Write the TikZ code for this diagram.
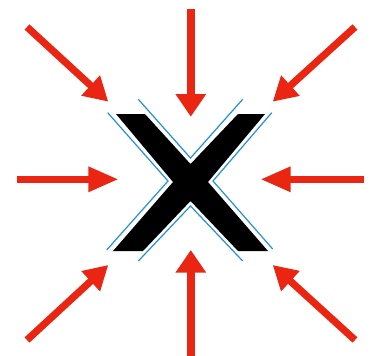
\documentclass[tikz,border=0pt]{standalone}
\usetikzlibrary{arrows.meta}
\definecolor{arrowred}{RGB}{234,38,18}
\definecolor{edgeblue}{RGB}{35,145,215}
\begin{document}
\begin{tikzpicture}[x=1pt,y=-1pt,
  vertarrow/.style={draw=arrowred,line width=8.3pt,-{Triangle[length=22.5pt,width=29pt]},fill=arrowred},
  horzarrow/.style={draw=arrowred,line width=6.4pt,-{Triangle[length=30pt,width=24pt]},fill=arrowred},
  diagarrow/.style={draw=arrowred,line width=7.2pt,-{Triangle[length=24pt,width=26pt]},fill=arrowred},
  blueedge/.style={draw=edgeblue,line width=1.2pt},
  crossmark/.style={fill=black}]
\useasboundingbox (0,0) rectangle (375,356);
% black X
\fill[crossmark] (116,114) -- (145,114) -- (190.5,164) -- (238,114) -- (265,114)
  -- (208,182) -- (268,251) -- (238,251) -- (190.5,201) -- (143,251) -- (113,251)
  -- (173,182) -- cycle;
% blue edges
\draw[blueedge] (107.7,112.7) -- (168,181) -- (106.7,250);
\draw[blueedge] (271.7,112.7) -- (213,181) -- (272.7,249);
\draw[blueedge] (138.3,99.3) -- (190.5,158) -- (242.7,99.3);
\draw[blueedge] (138.3,261) -- (190.5,206) -- (242.7,261);
% arrow ends
\coordinate (ts) at (190.8,9.3);   \coordinate (tt) at (190.8,116.7);
\coordinate (bs) at (190.8,356);   \coordinate (bt) at (190.8,250);
\coordinate (ls) at (16.7,179.3);  \coordinate (lt) at (118.3,179.3);
\coordinate (rs) at (364,179.3);   \coordinate (rt) at (260.7,179.3);
\coordinate (tls) at (27,27);      \coordinate (tlt) at (108.3,101.7);
\coordinate (trs) at (355,27);     \coordinate (trt) at (272.7,101.7);
\coordinate (brs) at (355,340);    \coordinate (brt) at (272.7,265);
\coordinate (bls) at (27,340);     \coordinate (blt) at (108.3,265);
% arrows
\draw[vertarrow] (ts) -- (tt);
\draw[vertarrow] (bs) -- (bt);
\draw[horzarrow] (ls) -- (lt);
\draw[horzarrow] (rs) -- (rt);
\draw[diagarrow] (tls) -- (tlt);
\draw[diagarrow] (trs) -- (trt);
\draw[diagarrow] (brs) -- (brt);
\draw[diagarrow] (bls) -- (blt);
\end{tikzpicture}
\end{document}
